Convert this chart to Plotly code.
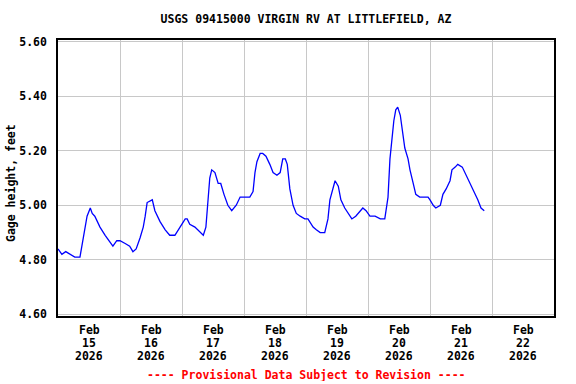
import plotly.graph_objects as go

# ---- data ----
times = [
    "2026-02-15 00:00", "2026-02-15 01:30", "2026-02-15 03:00", "2026-02-15 04:45",
    "2026-02-15 06:30", "2026-02-15 08:30", "2026-02-15 09:45", "2026-02-15 10:30",
    "2026-02-15 11:15", "2026-02-15 12:30", "2026-02-15 13:15", "2026-02-15 14:15",
    "2026-02-15 16:15", "2026-02-15 18:15", "2026-02-15 20:15", "2026-02-15 21:15",
    "2026-02-15 22:45",
    "2026-02-16 00:00", "2026-02-16 02:00", "2026-02-16 03:45", "2026-02-16 05:00",
    "2026-02-16 06:15", "2026-02-16 07:45", "2026-02-16 09:00", "2026-02-16 09:45",
    "2026-02-16 10:30", "2026-02-16 12:30", "2026-02-16 13:30", "2026-02-16 15:30",
    "2026-02-16 17:30", "2026-02-16 19:15", "2026-02-16 21:15", "2026-02-16 23:15",
    "2026-02-17 01:15", "2026-02-17 02:00", "2026-02-17 03:00", "2026-02-17 05:00",
    "2026-02-17 07:00", "2026-02-17 08:15", "2026-02-17 09:15", "2026-02-17 10:00",
    "2026-02-17 10:45", "2026-02-17 11:30", "2026-02-17 12:45", "2026-02-17 14:00",
    "2026-02-17 15:00", "2026-02-17 16:15", "2026-02-17 17:45", "2026-02-17 19:15",
    "2026-02-17 21:00", "2026-02-17 22:30",
    "2026-02-18 00:30", "2026-02-18 02:15", "2026-02-18 03:30", "2026-02-18 04:15",
    "2026-02-18 05:00", "2026-02-18 06:15", "2026-02-18 07:15", "2026-02-18 08:30",
    "2026-02-18 10:00", "2026-02-18 11:15", "2026-02-18 12:45", "2026-02-18 14:00",
    "2026-02-18 15:00", "2026-02-18 16:00", "2026-02-18 16:45", "2026-02-18 17:45",
    "2026-02-18 19:00", "2026-02-18 20:15", "2026-02-18 21:45", "2026-02-18 23:30",
    "2026-02-19 00:45", "2026-02-19 01:30", "2026-02-19 02:45", "2026-02-19 04:00",
    "2026-02-19 05:30", "2026-02-19 07:15", "2026-02-19 08:30", "2026-02-19 09:15",
    "2026-02-19 10:30", "2026-02-19 11:15", "2026-02-19 12:30", "2026-02-19 13:30",
    "2026-02-19 15:00", "2026-02-19 16:15", "2026-02-19 17:45", "2026-02-19 19:15",
    "2026-02-19 21:00", "2026-02-19 22:00", "2026-02-19 23:15",
    "2026-02-20 00:45", "2026-02-20 02:45", "2026-02-20 04:45", "2026-02-20 06:30",
    "2026-02-20 07:15", "2026-02-20 07:45", "2026-02-20 08:30", "2026-02-20 09:15",
    "2026-02-20 10:00", "2026-02-20 10:45", "2026-02-20 11:30", "2026-02-20 12:30",
    "2026-02-20 13:30", "2026-02-20 14:15", "2026-02-20 15:30", "2026-02-20 16:15",
    "2026-02-20 17:30", "2026-02-20 18:30", "2026-02-20 20:00", "2026-02-20 22:00",
    "2026-02-20 23:15",
    "2026-02-21 00:00", "2026-02-21 01:15", "2026-02-21 02:15", "2026-02-21 04:00",
    "2026-02-21 05:00", "2026-02-21 06:15", "2026-02-21 07:45", "2026-02-21 08:30",
    "2026-02-21 09:45", "2026-02-21 10:45", "2026-02-21 12:30", "2026-02-21 14:00",
    "2026-02-21 15:30", "2026-02-21 16:45", "2026-02-21 17:45", "2026-02-21 18:30",
    "2026-02-21 19:45", "2026-02-21 21:00",
]
gage_ft = [
    4.84, 4.82, 4.83, 4.82, 4.81, 4.81, 4.88, 4.92, 4.96, 4.99, 4.97, 4.96,
    4.92, 4.89, 4.86, 4.85, 4.87,
    4.87, 4.86, 4.85, 4.83, 4.84, 4.88, 4.92, 4.96, 5.01, 5.02, 4.98, 4.94,
    4.91, 4.89, 4.89, 4.92,
    4.95, 4.95, 4.93, 4.92, 4.90, 4.89, 4.92, 5.02, 5.10, 5.13, 5.12, 5.08,
    5.08, 5.04, 5.00, 4.98, 5.00, 5.03,
    5.03, 5.03, 5.05, 5.12, 5.16, 5.19, 5.19, 5.18, 5.15, 5.12, 5.11, 5.12,
    5.17, 5.17, 5.15, 5.06, 5.00, 4.97, 4.96, 4.95,
    4.95, 4.94, 4.92, 4.91, 4.90, 4.90, 4.95, 5.02, 5.06, 5.09, 5.07, 5.02,
    4.99, 4.97, 4.95, 4.96, 4.98, 4.99, 4.98,
    4.96, 4.96, 4.95, 4.95, 4.99, 5.03, 5.17, 5.25, 5.31, 5.35, 5.36, 5.33,
    5.26, 5.21, 5.17, 5.13, 5.08, 5.04, 5.03, 5.03, 5.03,
    5.02, 5.00, 4.99, 5.00, 5.04, 5.06, 5.09, 5.13, 5.14, 5.15, 5.14, 5.11,
    5.08, 5.06, 5.04, 5.02, 4.99, 4.98,
]
y_tick_vals = [4.60, 4.80, 5.00, 5.20, 5.40, 5.60]
y_tick_text = ["4.60", "4.80", "5.00", "5.20", "5.40", "5.60"]
x_tick_vals = ["2026-02-15 12:00", "2026-02-16 12:00", "2026-02-17 12:00", "2026-02-18 12:00",
               "2026-02-19 12:00", "2026-02-20 12:00", "2026-02-21 12:00", "2026-02-22 12:00"]
x_tick_month = ["Feb"] * 8
x_tick_day = ["15", "16", "17", "18", "19", "20", "21", "22"]
x_tick_year = ["2026"] * 8
title_text = "USGS 09415000 VIRGIN RV AT LITTLEFIELD, AZ"
y_title = "Gage height, feet"
footer_text = "---- Provisional Data Subject to Revision ----"

FONT = "DejaVu Sans Mono"
GRID = "#c8c8c8"
FS = 11.5

fig = go.Figure()
fig.add_trace(go.Scatter(
    x=times, y=gage_ft, mode="lines",
    line=dict(color="#0000ff", width=1.3),
    showlegend=False, hoverinfo="x+y",
))

annotations = []
# three-line x tick labels, tighter line spacing than plotly's <br>
for xv, m, d, yr in zip(x_tick_vals, x_tick_month, x_tick_day, x_tick_year):
    for txt, ypix in ((m, 329.5), (d, 342.5), (yr, 356)):
        annotations.append(dict(
            text="<b>" + txt + "</b>", xref="x", yref="paper", x=xv,
            y=-(ypix - 316) / 276, xanchor="center", yanchor="middle",
            height=12, showarrow=False,
            font=dict(family=FONT, size=FS, color="black")))
annotations.append(dict(
    text="<b>" + footer_text + "</b>", xref="paper", yref="paper",
    x=(306 - 58) / 496, y=-(375 - 316) / 276,
    xanchor="center", yanchor="middle", height=12, showarrow=False,
    font=dict(family=FONT, size=FS, color="#ff0000")))
annotations.append(dict(
    text="<b>" + y_title + "</b>", xref="paper", yref="paper",
    x=-(58 - 11) / 496, y=(316 - 183) / 276, textangle=-90,
    xanchor="center", yanchor="middle", showarrow=False,
    font=dict(family=FONT, size=FS, color="black")))

fig.update_layout(
    width=576, height=384,
    margin=dict(l=58, r=22, t=40, b=68, autoexpand=False),
    paper_bgcolor="white", plot_bgcolor="white",
    font=dict(family=FONT, size=11, color="black"),
    title=dict(text="<b>" + title_text + "</b>", x=306 / 576, xanchor="center",
               y=1 - 19 / 384, yanchor="middle",
               font=dict(family=FONT, size=FS, color="black")),
    xaxis=dict(
        type="date", automargin=False,
        range=["2026-02-15 00:00", "2026-02-23 00:00"],
        tickmode="array", tickvals=x_tick_vals, ticktext=[""] * len(x_tick_vals),
        showgrid=False, ticks="",
        minor=dict(dtick=86400000, tick0="2026-02-15", showgrid=True,
                   gridcolor=GRID, gridwidth=1, ticks=""),
        showline=True, linecolor="black", linewidth=1.5, mirror=True,
        zeroline=False, fixedrange=True,
    ),
    yaxis=dict(
        automargin=False,
        range=[4.594, 5.606],
        tickmode="array", tickvals=y_tick_vals,
        ticktext=["<b>" + t + "</b>" for t in y_tick_text],
        showgrid=True, gridcolor=GRID, gridwidth=1,
        ticks="", ticklabelstandoff=7,
        tickfont=dict(family=FONT, size=FS, color="black"),
        showline=True, linecolor="black", linewidth=1.5, mirror=True,
        zeroline=False, fixedrange=True,
    ),
    annotations=annotations,
)

fig.write_html("out.html", config={"displayModeBar": False},
               post_script="document.body.style.margin='0px';document.body.style.padding='0px';")
